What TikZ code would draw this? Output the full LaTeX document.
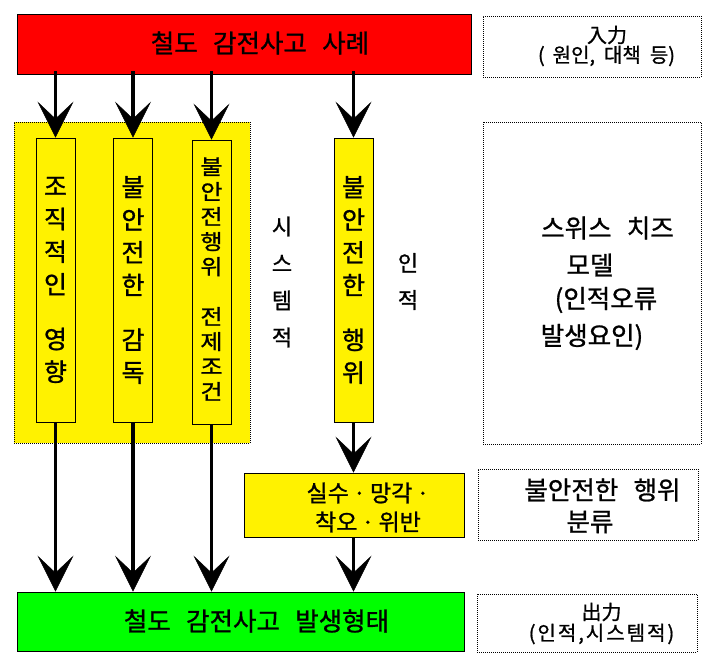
\documentclass[tikz,border=0pt]{standalone}
\usepackage{graphicx}
\usepackage{fontspec}
\setmainfont{Noto Sans CJK KR}[FakeBold=1.0]
\usetikzlibrary{arrows.meta}
\newcommand\ksp{\hspace{0.6em}}
\newcommand\ssp{\hspace{0.45em}}
\newcommand\mdot{\hspace{0.18em}·\hspace{0.18em}}
\tikzset{
  box/.style={draw=black, line width=0.8pt, inner sep=0pt},
  dbox/.style={draw=black, line width=0.8pt, dash pattern=on 1pt off 1pt, inner sep=0pt},
  colbox/.style={box, fill=yellow, minimum width=39pt, minimum height=284pt, align=center},
  bigarrow/.style={line width=3.8pt, -{Stealth[length=36pt,width=36pt,inset=17pt,line width=0.5pt]}},
  txt/.style={inner sep=0pt, align=center},
  colfont/.style={font=\fontsize{25pt}{32.7pt}\selectfont},
  bigfont/.style={font=\fontsize{25.5pt}{28pt}\selectfont},
  smallfont/.style={font=\fontsize{20pt}{22pt}\selectfont},
}
\begin{document}
\begin{tikzpicture}[x=1pt,y=-1pt]
\useasboundingbox (0,0) rectangle (716,666);
% system area
\node[dbox, fill=yellow, minimum width=236pt, minimum height=321pt] (sysarea) at (132,282.5) {};
% top box
\node[box, fill=red, minimum width=454pt, minimum height=60pt] (red) at (244,44) {};
\node[txt, bigfont] (redtxt) at (260,43) {철도\ksp 감전사고\ksp 사례};
% input box
\node[dbox, minimum width=218pt, minimum height=61pt] (inbox) at (592,46.5) {};
\node[txt, smallfont] (in1) at (607,35) {入力};
\node[txt, smallfont] (in2) at (606.5,56) {(\hspace{0.4em}원인,\ssp 대책\ssp 등)};
% columns
\node[colbox, colfont] (c1) at (55.5,280) {조\\직\\적\\인\\[22pt]영\\향};
\node[colbox, colfont] (c2) at (133,280) {불\\안\\전\\한\\[22pt]감\\독};
\node[colbox, font=\fontsize{24pt}{28.4pt}\selectfont] (c3) at (211.5,282) {\scalebox{1}[0.88]{\begin{tabular}{@{}c@{}}불\\안\\전\\행\\위\\[28.4pt]전\\제\\조\\건\end{tabular}}};
\node[colbox, colfont] (c4) at (353.5,280) {불\\안\\전\\한\\[22pt]행\\위};
% side labels
\node[txt, font=\fontsize{22pt}{37pt}\selectfont] (sys) at (282,282) {시\\스\\템\\적};
\node[txt, font=\fontsize{22pt}{37pt}\selectfont] (hum) at (408,281.5) {인\\적};
% swiss cheese box
\node[dbox, minimum width=218pt, minimum height=322pt] (swiss) at (592,283) {};
\node[txt, bigfont] (sw1) at (607.5,228) {스위스\ksp 치즈};
\node[txt, bigfont] (sw2) at (590,265) {모델};
\node[txt, bigfont] (sw3) at (606,300) {(인적오류};
\node[txt, bigfont] (sw4) at (592,337) {발생요인)};
% error box
\node[box, fill=yellow, minimum width=220pt, minimum height=64pt] (err) at (354,505) {};
\node[txt, font=\fontsize{23pt}{29pt}\selectfont] (errtxt) at (368,507.5) {실수\mdot 망각\mdot\\착오\mdot 위반};
% classification box
\node[dbox, minimum width=220pt, minimum height=71pt] (clsbox) at (588,504.5) {};
\node[txt, bigfont] (cls1) at (602.5,490) {불안전한\ksp 행위};
\node[txt, bigfont] (cls2) at (590,522) {분류};
% bottom box
\node[box, fill=green, minimum width=447pt, minimum height=59pt] (green) at (240.5,621.5) {};
\node[txt, bigfont] (greentxt) at (256.5,621) {철도\ksp 감전사고\ksp 발생형태};
% output box
\node[dbox, minimum width=220pt, minimum height=58pt] (outbox) at (587,623) {};
\node[txt, smallfont] (out1) at (601.5,612) {出力};
\node[txt, font=\fontsize{20pt}{22pt}\selectfont\addfontfeature{LetterSpace=10}] (out2) at (601.5,634) {(인적,시스템적)};
% arrows
\foreach \c in {c1,c2,c3,c4}
  \draw[bigarrow] ([yshift=3pt]red.south -| \c.north) -- (\c.north);
\foreach \c in {c1,c2,c3}
  \draw[bigarrow] (\c.south) -- (green.north -| \c.south);
\draw[bigarrow] (c4.south) -- (err.north -| c4.south);
\draw[bigarrow] (err.south -| c4.south) -- (green.north -| c4.south);
\end{tikzpicture}
\end{document}
